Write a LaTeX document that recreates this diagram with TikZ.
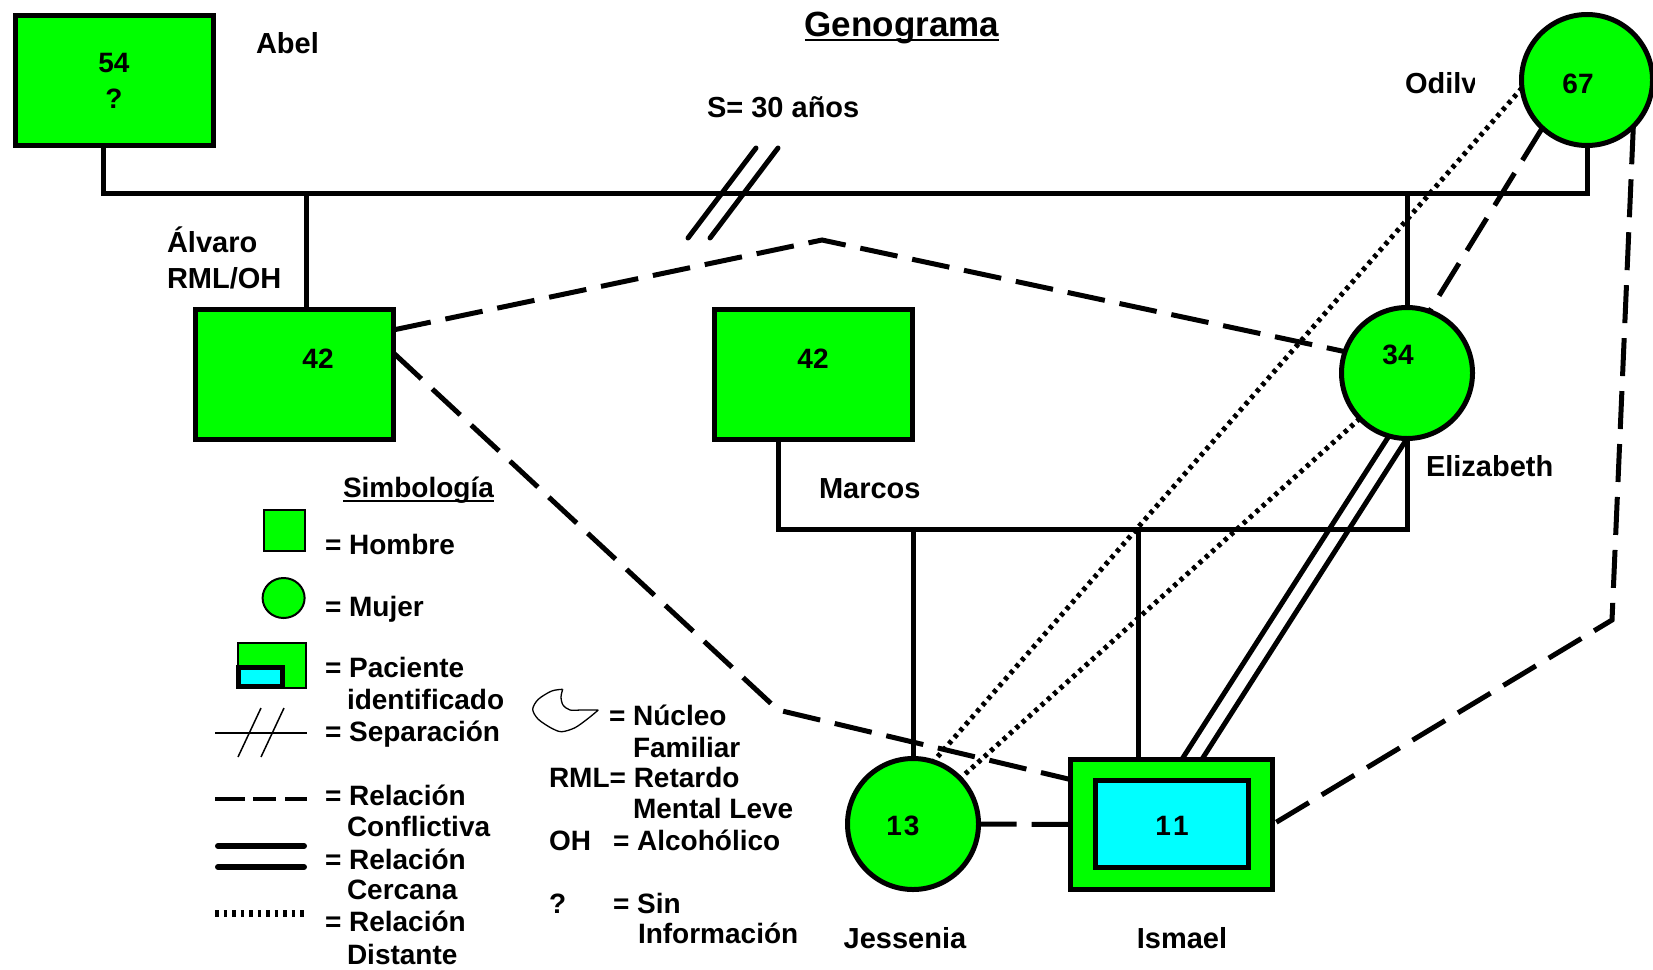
\documentclass[tikz,border=0pt]{standalone}
\usepackage{fontspec}
\setmainfont{Liberation Sans}
\usetikzlibrary{calc}
\definecolor{gg}{RGB}{0,255,0}
\definecolor{cy}{RGB}{0,255,255}
\pgfdeclarelayer{bg}
\pgfsetlayers{bg,main}
\begin{document}
\begin{tikzpicture}[x=1pt,y=-1pt,
  every node/.style={inner sep=0pt, outer sep=0pt, font=\bfseries\fontsize{28}{34}\selectfont},
  person/.style={draw, line width=5pt, fill=gg},
  male/.style={person, rectangle, minimum width=198pt, minimum height=130pt},
  female/.style={person, circle, minimum size=131pt},
  txt/.style={anchor=base west},
  ctxt/.style={anchor=base},
  nm/.style={font=\bfseries\fontsize{29}{34}\selectfont},
  fam/.style={line width=5pt},
  conflict/.style={line width=5pt, dash pattern=on 38pt off 15pt},
  distant/.style={line width=5pt, dash pattern=on 4pt off 4.5pt},
  closerel/.style={line width=5pt},
]
\useasboundingbox (0,0) rectangle (1653,969);

% persons
\node[male] (abel) at (114.3,80) {};
\node[male] (alvaro) at (294.5,374) {};
\node[male] (marcos) at (813.5,374) {};
\node[female] (odilia) at (1587,80) {};
\node[female] (eliz) at (1407,373) {};
\node[female] (jess) at (913,824) {};
\node[person, rectangle, minimum width=202pt, minimum height=130pt] (ismael) at (1171.5,824.5) {};
\node[draw, line width=5pt, fill=cy, minimum width=153pt, minimum height=87pt] (ismaelin) at (1172,824) {};

% numbers
\node[ctxt] (n54) at (114,72) {54};
\node[ctxt] (nq) at (114,108) {?};
\node[ctxt] (n42a) at (318,368) {42};
\node[ctxt] (n42b) at (813,368) {42};
\node[ctxt] (n34) at (1398,364) {34};
\node[ctxt] (n67) at (1578,93) {67};
\node[ctxt] (n13) at (903,835) {1\kern2pt3};
\node[ctxt] (n11) at (1172,835) {1\kern2pt1};

% names
\node[txt, nm] (abelname) at (256,53) {Abel};
\node[txt, nm] (alvname1) at (167,252) {Álvaro};
\node[txt, nm] (alvname2) at (167,288) {RML/OH};
\node[txt, nm] (marcname) at (819,498) {Marcos};
\node[txt, nm] (elizname) at (1426,476) {Elizabeth};
\node[ctxt, nm] (jessname) at (905,948) {Jessenia};
\node[ctxt, nm] (ismname) at (1182,948) {Ismael};
\begin{scope}
\clip (1390,50) rectangle (1474,120);
\node[txt, nm] (odname) at (1405,93) {Odilv};
\end{scope}
\node[txt, nm] (septxt) at (707,117) {S= 30 años};
\node[ctxt, font=\bfseries\fontsize{35}{40}\selectfont] (title) at (902,36.5) {Genograma};
\draw[line width=2.5pt] ([yshift=-3.5pt]title.base west) -- ([yshift=-3.5pt]title.base east);

% connectors
\begin{pgfonlayer}{bg}
\coordinate (jA) at (103,193);
\coordinate (jO) at (1587,193);
\coordinate (jAl) at (306,193);
\coordinate (jE) at (1407,193);
\draw[fam] (abel.south -| jA) -- (jA) -- (jO) -- (odilia.south);
\draw[fam] (jAl) -- (jAl |- alvaro.north);
\draw[fam] (jE) -- (eliz.north);
\coordinate (mL) at (778,529);
\coordinate (mR) at (1407,529);
\draw[fam] (mL |- marcos.south) -- (mL) -- (mR) -- (eliz.south);
\coordinate (cJ) at (913,529);
\coordinate (cI) at (1138,529);
\draw[fam] (cJ) -- (jess.north);
\draw[fam] (cI) -- (cI |- ismael.north);

\coordinate (apex) at (822,240);
\draw[conflict] (alvaro.24) -- (apex) -- (eliz.161);
\coordinate (bend) at (778,710);
\draw[conflict] (alvaro.12) -- (bend) -- (ismael.156);
\draw[conflict] (odilia.227) -- (eliz.70);
\coordinate (rc) at (1612,620);
\draw[conflict] (odilia.315) -- (rc) -- (ismael.east);
\draw[conflict] (jess.east) -- (ismael.west);

\draw[distant] (odilia.187) -- (jess.72);
\draw[distant] (eliz.224) -- (jess.44);

\draw[closerel] (eliz.254) -- (ismael.81);
\draw[closerel] (eliz.270) -- (ismael.65);
\end{pgfonlayer}

% separation mark
\draw[fam, line cap=round] (688,238) -- (756,148);
\draw[fam, line cap=round] (710,238) -- (778,148);

% legend
\node[txt] (simb) at (343,497) {Simbología};
\draw[line width=2pt] ([yshift=-3.5pt]simb.base west) -- ([yshift=-3.5pt]simb.base east);

\draw[line width=2pt, fill=gg] (263.5,510) rectangle (304.7,551);
\node[txt] (lh) at (325,554) {= Hombre};
\draw[line width=2pt, fill=gg] (283.6,598) ellipse [x radius=21pt, y radius=20pt];
\node[txt] (lm) at (325,616) {= Mujer};
\draw[line width=2pt, fill=gg] (238,643) rectangle (306,688);
\draw[line width=5pt, fill=cy] (238.5,667.5) rectangle (282.5,686.5);
\node[txt] (lp1) at (325,677) {= Paciente};
\node[txt] (lp2) at (347,709) {identificado};
\draw[line width=1.5pt] (215,733) -- (307,733);
\draw[line width=1.5pt] (238,757) -- (261,708);
\draw[line width=1.5pt] (261,757) -- (284,708);
\node[txt] (ls) at (325,741) {= Separación};
\draw[line width=4.5pt] (215,799) -- (245,799) (253,799) -- (276,799) (285,799) -- (307,799);
\node[txt] (lc1) at (325,805) {= Relación};
\node[txt] (lc2) at (347,836) {Conflictiva};
\draw[line width=6pt, line cap=round] (218,846) -- (304,846) (218,867) -- (304,867);
\node[txt] (lr1) at (325,869) {= Relación};
\node[txt] (lr2) at (347,899) {Cercana};
\draw[line width=7pt, dash pattern=on 3.5pt off 5pt] (215,913) -- (306,913);
\node[txt] (ld1) at (325,931) {= Relación};
\node[txt] (ld2) at (347,964) {Distante};

\draw[line width=1.3pt] plot[smooth] coordinates {(598.3,710) (588.3,718.3) (575,727.7) (561.7,731.7) (551.7,728.3) (538.3,719.3) (532.7,709.3) (538.3,699.3) (551.7,691) (562.7,689.3)}
  plot[smooth] coordinates {(562.7,689.3) (561,697) (563,705) (570,710) (581.7,710) (598.3,710)};
\node[txt] (ln1) at (609,725) {= Núcleo};
\node[txt] (ln2) at (633,757) {Familiar};
\node[txt] (lrml) at (549,787) {RML= Retardo};
\node[txt] (lrml2) at (633,818) {Mental Leve};
\node[txt] (loh) at (549,850) {OH};
\node[txt] (loh2) at (613,850) {= Alcohólico};
\node[txt] (lq) at (549,913) {?};
\node[txt] (lq2) at (613,913) {= Sin};
\node[txt] (lq3) at (638,943) {Información};
\end{tikzpicture}
\end{document}
